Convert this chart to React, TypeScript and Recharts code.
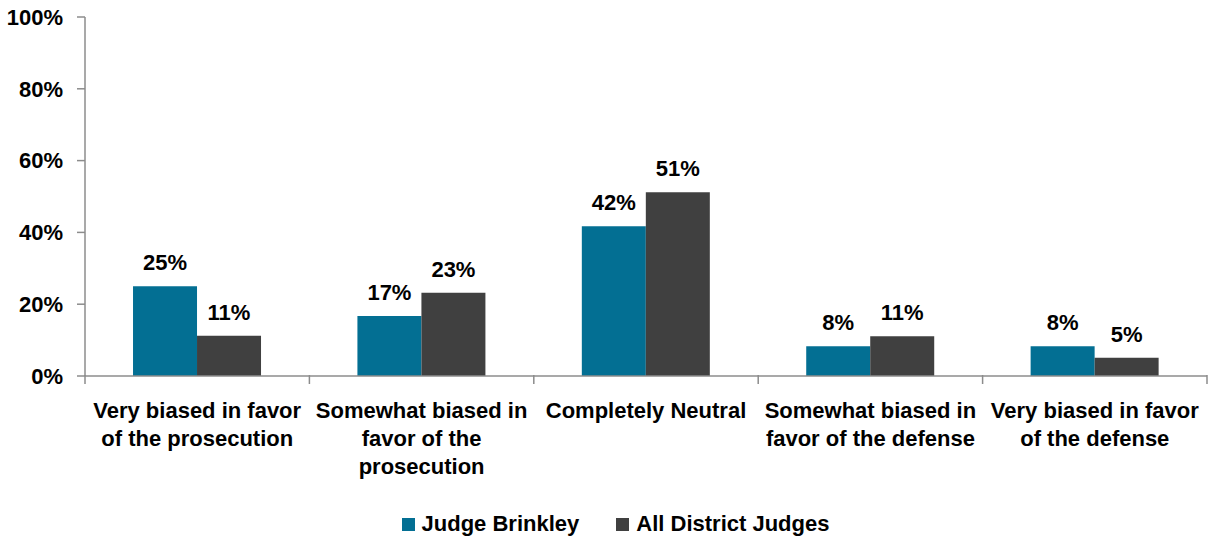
import { BarChart, Bar, XAxis, YAxis, Legend, LabelList } from 'recharts';

const categories = [
  'Very biased in favor|of the prosecution',
  'Somewhat biased in|favor of the|prosecution',
  'Completely Neutral',
  'Somewhat biased in|favor of the defense',
  'Very biased in favor|of the defense',
];
const judgeBrinkley = [25, 16.7, 41.7, 8.3, 8.3];
const allDistrictJudges = [11.2, 23.2, 51.2, 11.1, 5.1];
const yTicks = [0, 20, 40, 60, 80, 100];

const data = categories.map((c, i) => ({
  name: c,
  brinkley: judgeBrinkley[i],
  all: allDistrictJudges[i],
}));

const FONT = '"Liberation Sans Narrow", "Arial Narrow", "Liberation Sans", Arial, sans-serif';
const AXIS = '#8c8c8c';
const BLUE = '#036f93';
const GRAY = '#404040';
const FS = 22;
const CHART_W = 1211;
const LEFT = 85;
const RIGHT = 4;
const HALF_BAND = (CHART_W - LEFT - RIGHT) / categories.length / 2;

const CategoryTick = (props: any) => {
  const { x, y, payload, index } = props;
  const lines = String(payload.value).split('|');
  const isLast = index === categories.length - 1;
  return (
    <g>
      <line x1={x - HALF_BAND} x2={x - HALF_BAND} y1={y - 9} y2={y} stroke={AXIS} strokeWidth={1.5} />
      {isLast && <line x1={x + HALF_BAND} x2={x + HALF_BAND} y1={y - 9} y2={y} stroke={AXIS} strokeWidth={1.5} />}
      <text x={x} y={y} textAnchor="middle" fontFamily={FONT} fontWeight="bold" fontSize={FS} fill="#000">
        {lines.map((l, i) => (
          <tspan key={i} x={x} dy={i === 0 ? 34 : 28}>
            {l}
          </tspan>
        ))}
      </text>
    </g>
  );
};

const LegendContent = () => (
  <div style={{ display: 'flex', justifyContent: 'center', marginTop: 9, paddingLeft: 24, fontFamily: FONT, fontWeight: 'bold', fontSize: FS, color: '#000' }}>
    {[
      ['Judge Brinkley', BLUE],
      ['All District Judges', GRAY],
    ].map(([label, color], i) => (
      <div key={label} style={{ display: 'flex', alignItems: 'center', marginLeft: i ? 37 : 0 }}>
        <span style={{ width: 13, height: 13, background: color, marginRight: 7, display: 'inline-block' }} />
        <span>{label}</span>
      </div>
    ))}
  </div>
);

const labelStyle = { fontFamily: FONT, fontWeight: 'bold', fontSize: FS, fill: '#000' };

export default function App() {
  return (
    <div style={{ position: 'absolute', left: 0, top: 0, background: '#fff' }}>
      <BarChart
        width={CHART_W}
        height={544}
        data={data}
        margin={{ top: 17, right: RIGHT, left: 0, bottom: 0 }}
        barCategoryGap="21.4%"
        barGap={0}
      >
        <XAxis
          dataKey="name"
          interval={0}
          tick={<CategoryTick />}
          tickLine={false}
          tickSize={8}
          tickMargin={0}
          axisLine={{ stroke: AXIS, strokeWidth: 1.5 }}
          height={126}
        />
        <YAxis
          domain={[0, 100]}
          ticks={yTicks}
          tickFormatter={(v: number) => `${v}%`}
          tick={labelStyle}
          axisLine={{ stroke: AXIS, strokeWidth: 1.5 }}
          tickLine={{ stroke: AXIS, strokeWidth: 1.5 }}
          tickSize={8}
          tickMargin={14}
          width={LEFT}
          interval={0}
        />
        <Legend verticalAlign="bottom" height={42} content={<LegendContent />} />
        <Bar dataKey="brinkley" name="Judge Brinkley" fill={BLUE} isAnimationActive={false}>
          <LabelList dataKey="brinkley" position="top" offset={16} formatter={(v: any) => `${Math.round(v)}%`} style={labelStyle} />
        </Bar>
        <Bar dataKey="all" name="All District Judges" fill={GRAY} isAnimationActive={false}>
          <LabelList dataKey="all" position="top" offset={16} formatter={(v: any) => `${Math.round(v)}%`} style={labelStyle} />
        </Bar>
      </BarChart>
    </div>
  );
}
